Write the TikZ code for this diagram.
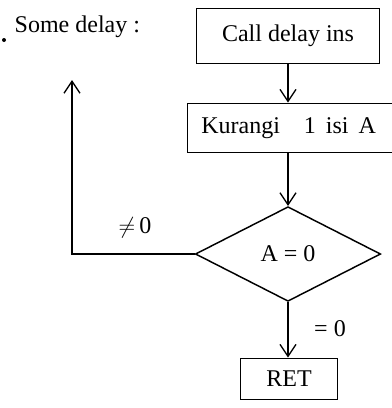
\documentclass[tikz,border=0pt]{standalone}
\usepackage{fontspec}
\setmainfont{Liberation Serif}
\usetikzlibrary{shapes.geometric,arrows.meta}

\begin{document}
\begin{tikzpicture}[x=0.75pt,y=-0.75pt,
    >={Straight Barb[length=9pt,width=12pt]},
    font=\fontsize{18}{21}\selectfont,
    box/.style={draw, line width=1.1pt, rectangle, inner sep=0pt},
    test/.style={draw, line width=1.1pt, diamond, inner sep=0pt, minimum width=139pt, minimum height=71pt},
    flow/.style={line width=1pt, ->}]
    \useasboundingbox (0,0) rectangle (392,408);

    % judul
    \node[anchor=west] (title) at (10,27) {Some delay :};
    \fill (4,40) circle (2);

    % kotak-kotak
    \node[box, minimum width=137pt, minimum height=41pt] (call) at (288,36) {Call delay ins};
    \node[box, minimum width=172pt, minimum height=37pt] (dec) at (302,128) {Kurangi\enspace\ \ 1\, isi\, A\kern20pt};
    \node[test] (cek) at (288,254) {A = 0};
    \node[box, minimum width=73pt, minimum height=31pt] (ret) at (289,379) {RET};

    % alur
    \draw[flow] (call.south) -- (call.south |- dec.north);
    \draw[flow] (call.south |- dec.south) -- (cek.north);
    \draw[flow] (cek.south) -- (cek.south |- ret.north);

    % kembali ke atas
    \coordinate (sudut) at (72,254);
    \coordinate (ujung) at (72,80);
    \draw[flow] (cek.west) -- (sudut) -- (ujung);

    % label
    \node (ne) at (135,228) {$\neq$\,0};
    \node (eq) at (330,329) {= 0};
\end{tikzpicture}
\end{document}
